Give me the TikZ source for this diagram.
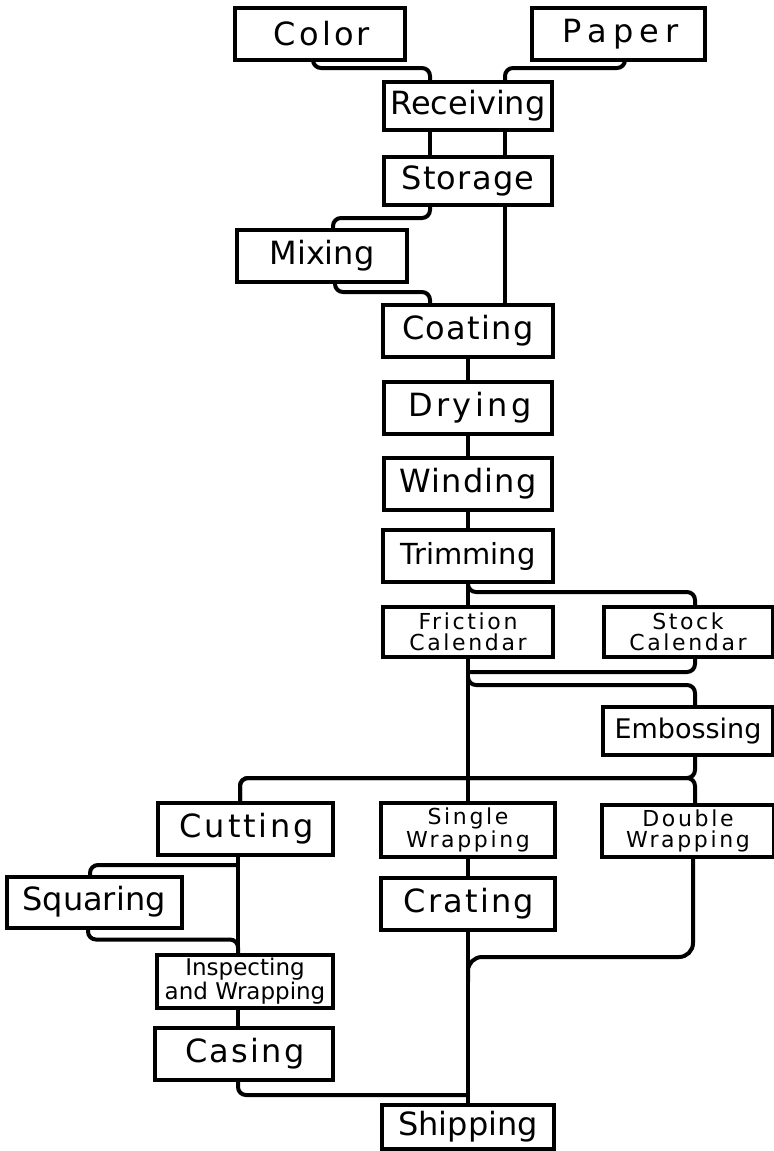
\documentclass[tikz,border=0pt]{standalone}
\usepackage{fontspec}
\setmainfont{DejaVu Sans}
\usetikzlibrary{calc}
\begin{document}
\begin{tikzpicture}[x=0.5pt, y=-0.5pt,
    box/.style={draw, line width=2pt, inner sep=0pt, outer sep=0pt, font=\fontsize{16}{18}\selectfont},
    lsp/.style={font=\fontsize{16}{18}\selectfont\addfontfeatures{LetterSpace=#1}},
    duo/.style={align=center, font=\fontsize{11}{10.5}\selectfont\addfontfeatures{LetterSpace=12}},
    flow/.style={line width=2pt, rounded corners=4pt}]
  \useasboundingbox (0,0) rectangle (774,1151);
  % matieres premieres
  \node[box, minimum width=85pt, minimum height=26pt, lsp=10] (color) at (320,34) {\hspace{2pt}Color};
  \node[box, minimum width=86.5pt, minimum height=26pt, lsp=20] (paper) at (618,34) {\hspace{3pt}Paper};
  % colonne principale
  \node[box, minimum width=84pt, minimum height=24pt] (recv) at (468,106) {Receiving};
  \node[box, minimum width=84pt, minimum height=24pt, lsp=4] (stor) at (468,181) {Storage};
  \node[box, minimum width=85pt, minimum height=26pt] (mix) at (322,256) {Mixing};
  \node[box, minimum width=85pt, minimum height=26pt, lsp=4] (coat) at (468,331) {Coating};
  \node[box, minimum width=84pt, minimum height=26pt, lsp=11] (dry) at (468,408) {\hspace{2pt}Drying};
  \node[box, minimum width=84pt, minimum height=26pt, lsp=4] (wind) at (468,484) {Winding};
  \node[box, minimum width=85pt, minimum height=26pt, font=\fontsize{14.5}{16}\selectfont] (trim) at (468,556) {Trimming};
  % calandres
  \node[box, minimum width=85pt, minimum height=25pt, duo] (fric) at (468,632) {Friction\\Calendar};
  \node[box, minimum width=84.5pt, minimum height=25pt, duo] (stock) at (688,632) {Stock\\Calendar};
  \node[box, minimum width=85pt, minimum height=24pt, font=\fontsize{13.5}{15}\selectfont] (emb) at (688,731) {Embossing};
  % finition
  \node[box, minimum width=87.5pt, minimum height=26pt, lsp=9] (cut) at (245,829) {\hspace{2pt}Cutting};
  \node[box, minimum width=87pt, minimum height=27pt, duo] (single) at (468,830) {Single\\Wrapping};
  \node[box, minimum width=86pt, minimum height=26pt, duo] (double) at (688,831) {Double\\Wrapping};
  \node[box, minimum width=87pt, minimum height=26pt, lsp=7] (crat) at (468,904) {\hspace{1pt}Crating};
  \node[box, minimum width=87.5pt, minimum height=25.5pt] (squar) at (94,902) {Squaring};
  \node[box, minimum width=88pt, minimum height=26.5pt, align=center,
        font=\fontsize{11.5}{11}\selectfont] (insp) at (245,981) {Inspecting\\and Wrapping};
  \node[box, minimum width=89pt, minimum height=26pt, lsp=7] (cas) at (244,1054) {\hspace{1pt}Casing};
  \node[box, minimum width=86pt, minimum height=22pt] (ship) at (468,1127) {Shipping};
  % arrivees
  \draw[flow] ($(color.south)+(-7,0)$) -- ++(0,8) -| ($(recv.north)+(-38,0)$);
  \draw[flow] ($(paper.south)+(7,0)$) -- ++(0,8) -| ($(recv.north)+(37,0)$);
  \draw[flow] ($(recv.south)+(-38,0)$) -- ($(stor.north)+(-38,0)$);
  \draw[flow] ($(recv.south)+(37,0)$) -- ($(stor.north)+(37,0)$);
  % melange et enduction
  \draw[flow] ($(stor.south)+(-38,0)$) -- ++(0,13) -| ($(mix.north)+(11,0)$);
  \draw[flow] ($(stor.south)+(37,0)$) -- ($(coat.north)+(37,0)$);
  \draw[flow] ($(mix.south)+(13,0)$) -- ++(0,10) -| ($(coat.north)+(-38,0)$);
  \draw[flow] (coat) -- (dry);
  \draw[flow] (dry) -- (wind);
  \draw[flow] (wind) -- (trim);
  \draw[flow] (trim) -- (fric);
  % derivations calandres
  \draw[flow] (trim.south) -- ++(0,10) -| ($(stock.north)+(7,0)$);
  \draw[flow] ($(stock.south)+(7,0)$) |- ($(fric.south)+(0,15)$);
  \draw[flow] ($(fric.south)+(0,22)$) -- ++(0,6) -| ($(emb.north)+(7,0)$);
  \draw[flow] (fric.south) -- (single.north);
  % fourche apres gaufrage
  \draw[flow] ($(emb.south)+(7,0)$) -- ++(0,23) -| ($(cut.north)+(-5,0)$);
  \draw[flow] ($(cut.north)+(-5,0)$) -- ++(0,-25) -| ($(double.north)+(7,0)$);
  % emballage
  \draw[flow] (single) -- (crat);
  \draw[flow] (crat.south) -- (ship.north);
  \draw[flow, rounded corners=7pt] ($(double.south)+(5,0)$) |- ($(crat.south)+(0,27)$) -- ++(0,25);
  % coupe
  \draw[flow] ($(cut.south)+(-7,0)$) -- ($(insp.north)+(-7,0)$);
  \draw[flow] ($(cut.south)+(-7,10)$) -| ($(squar.north)+(-4,0)$);
  \draw[flow] ($(squar.south)+(-6,0)$) -- ++(0,12) -| ($(insp.north)+(-7,0)$);
  \draw[flow] ($(insp.south)+(-7,0)$) -- ($(cas.north)+(-6,0)$);
  \draw[flow] ($(cas.south)+(-6,0)$) |- ($(ship.north)+(0,-10)$);
\end{tikzpicture}
\end{document}
